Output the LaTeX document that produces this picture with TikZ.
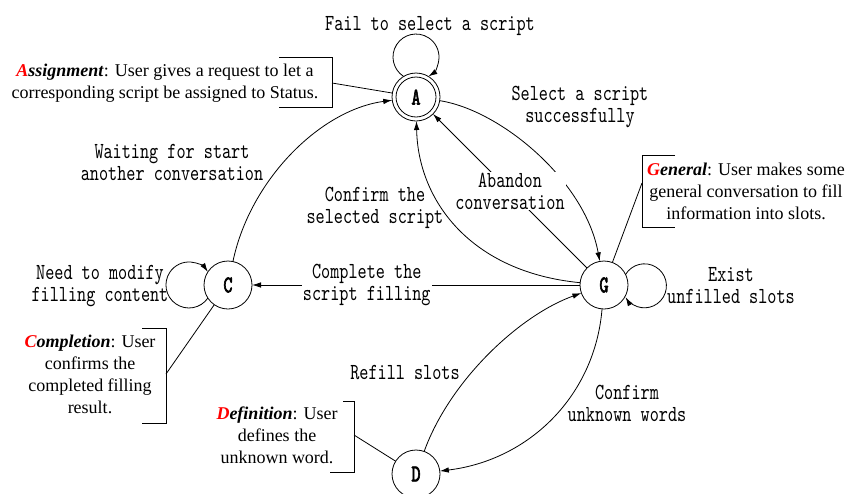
\documentclass[tikz,border=0pt]{standalone}
\usepackage{fontspec}
\setmainfont{Liberation Serif}
\newfontfamily\lblfont{lmmono10-regular.otf}[FakeStretch=0.755]
\newfontfamily\stfont{lmmono10-regular.otf}[FakeStretch=0.72,FakeBold=2.5]
\usetikzlibrary{arrows.meta}
\newcommand\annhead[2]{\textbf{\textit{\textcolor{red}{#1}#2}}}
\tikzset{
  stnode/.style={circle, draw, line width=0.8pt, minimum size=48pt, inner sep=0pt, outer sep=0pt,
    font=\stfont\fontsize{24}{24}\selectfont},
  lbl/.style={align=center, font=\lblfont\fontsize{23}{22}\selectfont, inner sep=1pt},
  ann/.style={align=center, font=\fontsize{18}{22}\selectfont, inner sep=0pt},
  edge/.style={line width=0.8pt, -{Latex[length=9pt,width=5.5pt]}},
  brk/.style={line width=0.8pt}
}
\begin{document}
\begin{tikzpicture}[x=1pt,y=1pt]
\path[use as bounding box] (0,0) rectangle (849,-493);
% states
\node[stnode] (A) at (416,-97) {A};
\draw[line width=0.8pt] (A.center) circle[radius=20pt];
\node[stnode] (C) at (228,-285) {C};
\node[stnode] (G) at (604,-285) {G};
\node[stnode] (D) at (416,-474) {D};
% self loops
\draw[edge] (A.121) arc[start angle=237.5, end angle=-57.5, radius=23pt];
\draw[edge] (C.213) arc[start angle=-34.7, end angle=-325.3, radius=23pt];
\draw[edge] (G.26) arc[start angle=149, end angle=-149, radius=22pt];
% transitions
\draw[edge] (A) .. controls (500,-110) and (585,-180) .. (G);
\draw[edge] (G) .. controls (470,-272) and (418,-200) .. (A);
\draw[edge] (G) -- node[lbl, fill=white] {Abandon\\conversation} (A);
\draw[edge] (C) .. controls (250,-180) and (320,-110) .. (A);
\draw[edge] (G) -- node[lbl, fill=white, pos=0.65] {Complete the\\script filling} (C);
\draw[edge] (G) .. controls (595,-395) and (530,-460) .. (D);
\draw[edge] (D) .. controls (450,-380) and (520,-315) .. (G);
% labels
\node[lbl] (l1) at (430,-26) {Fail to select a script};
\node[lbl] (l2) at (580,-107) {Select a script\\successfully};
\node[lbl] (l3) at (172,-162) {Waiting for start\\another conversation};
\node[lbl] (l4) at (375,-207.5) {Confirm the\\selected script};
\node[lbl] (l5) at (100,-286) {Need to modify\\filling content};
\node[lbl] (l6) at (731,-286) {Exist\\unfilled slots};
\node[lbl] (l7) at (405,-373) {Refill slots};
\node[lbl] (l8) at (627,-403) {Confirm\\unknown words};
% annotations
\node[ann] (asg) at (165,-83) {\annhead{A}{ssignment}: User gives a request to let a\\corresponding script be assigned to Status.};
\coordinate (asgp) at (332,-83);
\draw[brk] (279,-57) -- (332,-57) -- (332,-107) -- (279,-107);
\draw[brk] (asgp) -- (A);
\node[ann] (gen) at (746,-191.5) {\annhead{G}{eneral}: User makes some\\general conversation to fill\\information into slots.};
\coordinate (genp) at (642,-183);
\draw[brk] (675,-155) -- (642,-155) -- (642,-227) -- (675,-227);
\draw[brk] (genp) -- (G);
\node[ann] (cmp) at (90,-374.5) {\annhead{C}{ompletion}: User\\confirms the\\completed filling\\result.};
\coordinate (cmpp) at (166,-374);
\draw[brk] (142,-328) -- (166,-328) -- (166,-423) -- (142,-423);
\draw[brk] (cmpp) -- (C);
\node[ann] (dfn) at (277,-435.5) {\annhead{D}{efinition}: User\\defines the\\unknown word.};
\coordinate (dfnp) at (354,-435);
\draw[brk] (343,-401) -- (354,-401) -- (354,-472) -- (330,-472);
\draw[brk] (dfnp) -- (D);
\end{tikzpicture}
\end{document}
